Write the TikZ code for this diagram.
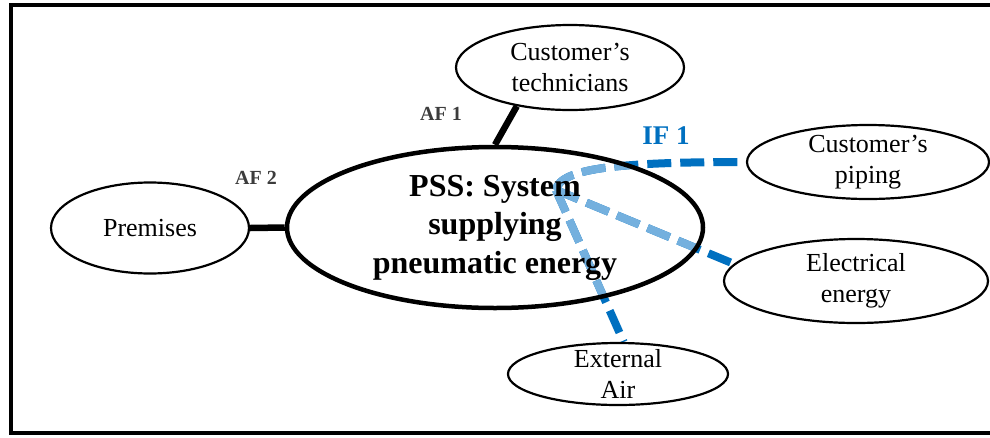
\documentclass[tikz,border=0pt]{standalone}
\usepackage{fontspec}
\setmainfont{Liberation Serif}
\usetikzlibrary{shapes.geometric,backgrounds}
\definecolor{ifdark}{RGB}{0,112,192}
\definecolor{iflight}{RGB}{116,176,222}
\definecolor{aflabel}{RGB}{60,60,60}

\begin{document}
\begin{tikzpicture}[x=1pt,y=-1pt,
  actor/.style={ellipse, draw, line width=2.2pt, inner xsep=0pt, inner ysep=-6pt,
    align=center, font=\fontsize{26}{31}\selectfont},
  core/.style={ellipse, draw, line width=4.5pt, inner sep=0pt,
    align=center, font=\fontsize{32}{38.5}\selectfont\bfseries},
  aflink/.style={line width=6.5pt},
  iflink/.style={line width=8pt, dash pattern=on 24pt off 9pt},
  aftag/.style={text=aflabel, font=\fontsize{20}{24}\selectfont\bfseries},
  iftag/.style={text=ifdark, font=\fontsize{27}{32}\selectfont\bfseries}]

  \useasboundingbox (0,0) rectangle (990,437);
  \clip (0,0) rectangle (990,437);

  % frame
  \draw[line width=4pt] (10.5,5) rectangle (1000,433);

  % system and its environment
  \node[core, minimum width=416pt, minimum height=161pt] (pss) at (495,227.5)
    {PSS: System\\supplying\\pneumatic energy};
  \node[actor, minimum width=198pt, minimum height=91pt] (prem) at (150,228) {Premises};
  \node[actor, minimum width=228pt, minimum height=85pt] (tech) at (570,67.5)
    {Customer’s\\technicians};
  \node[actor, minimum width=242pt, minimum height=74pt] (pipe) at (868,162)
    {Customer’s\\piping};
  \node[actor, minimum width=264pt, minimum height=84pt] (elec) at (856,281)
    {Electrical\\energy};
  \node[actor, minimum width=220pt, minimum height=62pt, inner ysep=-9pt] (ext) at (618,374)
    {External\\Air};

  % interface labels
  \node[aftag] (af1) at (441,114) {AF 1};
  \node[aftag] (af2) at (256,178) {AF 2};
  \node[iftag] (if1) at (666,136) {IF 1};

  \coordinate (hub) at (556,190);

  \begin{scope}[on background layer]
    % functional links
    \draw[aflink] (tech.216) -- (pss.north);
    \draw[aflink] (prem.east) -- (pss.west);
    % interface flows, dark outside the system
    \draw[iflink, ifdark] (hub) .. controls (560,168) and (620,162) .. (pipe.west);
    \draw[iflink, ifdark] (hub) -- (elec.172);
    \draw[iflink, ifdark] (hub) -- (ext.80);
    % and light inside it
    \begin{scope}
      \clip (pss.center) ellipse [x radius=208pt, y radius=80pt];
      \draw[iflink, iflight] (hub) .. controls (560,168) and (620,162) .. (pipe.west);
      \draw[iflink, iflight] (hub) -- (elec.172);
      \draw[iflink, iflight] (hub) -- (ext.80);
    \end{scope}
  \end{scope}
\end{tikzpicture}
\end{document}
